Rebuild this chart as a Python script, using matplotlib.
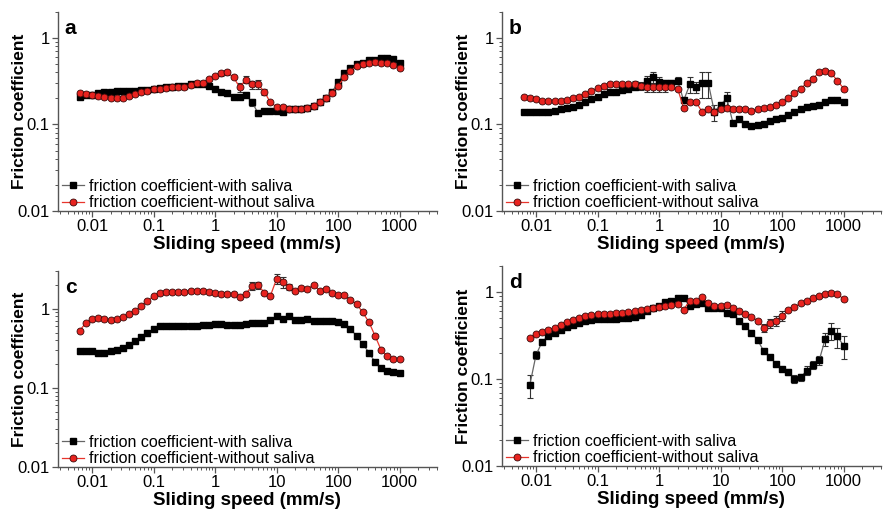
import matplotlib
matplotlib.use("Agg")
import matplotlib.pyplot as plt
from matplotlib.ticker import FixedLocator, LogLocator, NullFormatter
import numpy as np

plt.rcParams['font.family'] = ['Liberation Sans', 'DejaVu Sans']

# sliding speeds (mm/s), ~10 per decade
speed = [0.0063, 0.0079, 0.01, 0.0126, 0.0158, 0.02, 0.025, 0.0316, 0.04, 0.05,
         0.063, 0.079, 0.1, 0.126, 0.158, 0.2, 0.25, 0.316, 0.4, 0.5,
         0.63, 0.79, 1, 1.26, 1.58, 2, 2.5, 3.16, 4, 5,
         6.3, 7.9, 10, 12.6, 15.8, 20, 25, 31.6, 40, 50,
         63, 79, 100, 126, 158, 200, 250, 316, 400, 500,
         630, 790, 1000]

# panel a
a_with = [0.21, 0.22, 0.22, 0.23, 0.235, 0.24, 0.245, 0.245, 0.245, 0.245,
          0.25, 0.25, 0.26, 0.265, 0.27, 0.27, 0.275, 0.28, 0.29, 0.29,
          0.29, 0.28, 0.26, 0.24, 0.23, 0.21, 0.21, 0.22, 0.18, 0.135,
          0.145, 0.145, 0.145, 0.14, 0.15, 0.15, 0.15, 0.155, 0.165, 0.18,
          0.2, 0.235, 0.31, 0.39, 0.45, 0.5, 0.52, 0.55, 0.56, 0.58,
          0.59, 0.57, 0.51]
a_without = [0.23, 0.225, 0.22, 0.215, 0.21, 0.205, 0.205, 0.205, 0.215, 0.225,
             0.235, 0.245, 0.255, 0.26, 0.265, 0.27, 0.27, 0.27, 0.285, 0.3,
             0.3, 0.34, 0.36, 0.39, 0.4, 0.35, 0.27, 0.33, 0.29, 0.29,
             0.24, 0.18, 0.16, 0.16, 0.15, 0.15, 0.15, 0.155, 0.165, 0.18,
             0.2, 0.23, 0.28, 0.35, 0.42, 0.47, 0.5, 0.52, 0.53, 0.52,
             0.51, 0.49, 0.45]
a_err_with = {28: 0.015, 29: 0.01}
a_err_without = {23: 0.03, 24: 0.03, 26: 0.03, 27: 0.03, 28: 0.03, 29: 0.035, 30: 0.02}

# panel b
b_with = [0.14, 0.14, 0.14, 0.14, 0.14, 0.145, 0.15, 0.155, 0.16, 0.17,
          0.18, 0.195, 0.21, 0.225, 0.235, 0.24, 0.25, 0.26, 0.27, 0.28,
          0.32, 0.35, 0.31, 0.3, 0.3, 0.32, 0.19, 0.29, 0.27, 0.3,
          0.3, 0.14, 0.17, 0.2, 0.105, 0.115, 0.1, 0.097, 0.098, 0.1,
          0.11, 0.115, 0.12, 0.13, 0.14, 0.15, 0.16, 0.165, 0.17, 0.18,
          0.19, 0.19, 0.18]
b_without = [0.21, 0.205, 0.195, 0.185, 0.185, 0.185, 0.185, 0.19, 0.2, 0.21,
             0.225, 0.245, 0.265, 0.28, 0.29, 0.29, 0.29, 0.29, 0.29, 0.28,
             0.27, 0.27, 0.27, 0.27, 0.27, 0.26, 0.155, 0.18, 0.18, 0.14,
             0.15, 0.14, 0.15, 0.155, 0.15, 0.15, 0.15, 0.145, 0.15, 0.155,
             0.16, 0.17, 0.18, 0.2, 0.23, 0.26, 0.3, 0.34, 0.4, 0.42,
             0.39, 0.32, 0.26]
b_err_with = {20: 0.04, 21: 0.05, 22: 0.04, 23: 0.03, 24: 0.03, 25: 0.03,
              27: 0.06, 28: 0.04, 29: 0.1, 30: 0.1, 31: 0.03, 33: 0.04}
b_err_without = {18: 0.03, 19: 0.03, 20: 0.03, 21: 0.03, 22: 0.03, 23: 0.03}

# panel c
c_with = [0.29, 0.29, 0.29, 0.28, 0.28, 0.29, 0.3, 0.32, 0.35, 0.39,
          0.44, 0.5, 0.55, 0.6, 0.6, 0.61, 0.61, 0.61, 0.61, 0.61,
          0.62, 0.63, 0.64, 0.64, 0.63, 0.63, 0.62, 0.65, 0.67, 0.67,
          0.66, 0.72, 0.82, 0.75, 0.8, 0.72, 0.72, 0.74, 0.71, 0.71,
          0.7, 0.7, 0.68, 0.64, 0.56, 0.45, 0.36, 0.28, 0.21, 0.18,
          0.165, 0.16, 0.155]
c_without = [0.53, 0.66, 0.74, 0.76, 0.74, 0.72, 0.74, 0.78, 0.86, 0.95,
             1.1, 1.25, 1.45, 1.6, 1.65, 1.65, 1.65, 1.65, 1.7, 1.68,
             1.66, 1.64, 1.58, 1.55, 1.52, 1.52, 1.42, 1.55, 1.95, 2.0,
             1.6, 1.45, 2.4, 2.2, 1.9, 1.7, 1.85, 1.8, 2.0, 1.7,
             1.8, 1.6, 1.5, 1.5, 1.3, 1.15, 0.9, 0.68, 0.45, 0.3,
             0.25, 0.23, 0.23]
c_err_with = {}
c_err_without = {28: 0.2, 29: 0.2, 32: 0.35, 33: 0.35, 34: 0.15}

# panel d (starts at 0.0079 mm/s)
d_with = [np.nan, 0.085, 0.19, 0.27, 0.31, 0.34, 0.37, 0.4, 0.42, 0.44,
          0.47, 0.48, 0.49, 0.49, 0.49, 0.49, 0.5, 0.51, 0.52, 0.55,
          0.6, 0.65, 0.7, 0.76, 0.8, 0.85, 0.85, 0.7, 0.73, 0.75,
          0.66, 0.65, 0.65, 0.58, 0.56, 0.47, 0.41, 0.34, 0.28, 0.21,
          0.18, 0.15, 0.13, 0.12, 0.1, 0.105, 0.125, 0.145, 0.165, 0.29,
          0.36, 0.31, 0.24]
d_without = [np.nan, 0.3, 0.33, 0.35, 0.37, 0.39, 0.42, 0.45, 0.48, 0.5,
             0.53, 0.55, 0.56, 0.56, 0.56, 0.57, 0.58, 0.59, 0.6, 0.62,
             0.64, 0.66, 0.68, 0.7, 0.72, 0.73, 0.63, 0.8, 0.8, 0.88,
             0.75, 0.7, 0.7, 0.72, 0.65, 0.6, 0.56, 0.52, 0.47, 0.39,
             0.44, 0.47, 0.53, 0.62, 0.68, 0.74, 0.8, 0.85, 0.9, 0.95,
             0.97, 0.95, 0.83]
d_err_with = {1: 0.025, 2: 0.02, 43: 0.01, 44: 0.01, 45: 0.01, 46: 0.015,
              47: 0.015, 48: 0.02, 49: 0.05, 50: 0.08, 51: 0.08, 52: 0.07}
d_err_without = {39: 0.04, 40: 0.05, 41: 0.06, 42: 0.07}

panels = [
    ('a', a_with, a_without, a_err_with, a_err_without, 2.0),
    ('b', b_with, b_without, b_err_with, b_err_without, 2.0),
    ('c', c_with, c_without, c_err_with, c_err_without, 3.0),
    ('d', d_with, d_without, d_err_with, d_err_without, 2.0),
]

# axes rectangles in figure fractions
rects = {
    'a': [0.0654, 0.5855, 0.427, 0.391],
    'b': [0.566, 0.5855, 0.427, 0.391],
    'c': [0.0654, 0.0825, 0.427, 0.385],
    'd': [0.566, 0.0845, 0.427, 0.393],
}

spine_col = '#555555'


def err_array(errs, n):
    e = np.zeros(n)
    for k, v in errs.items():
        e[k] = v
    return e


fig = plt.figure(figsize=(8.87, 5.09), dpi=100)

for name, yw, yo, ew, eo, ytop in panels:
    ax = fig.add_axes(rects[name])
    n = len(speed)
    # error bars first, then lines+markers (legend uses the plain lines)
    ax.errorbar(speed, yw, yerr=err_array(ew, n), fmt='none', ecolor='#333333',
                elinewidth=0.8, capsize=2, capthick=0.8, zorder=2)
    ax.errorbar(speed, yo, yerr=err_array(eo, n), fmt='none', ecolor='#333333',
                elinewidth=0.8, capsize=2, capthick=0.8, zorder=2)
    ax.plot(speed, yw, color='#666666', lw=0.9, marker='s', ms=5,
            mfc='black', mec='black', label='friction coefficient-with saliva',
            zorder=3)
    ax.plot(speed, yo, color='#e8352c', lw=0.9, marker='o', ms=5,
            mfc='#e8231f', mec='#3a0a0a', mew=0.6,
            label='friction coefficient-without saliva', zorder=4)
    ax.set_xscale('log')
    ax.set_yscale('log')
    ax.set_xlim(0.0028, 4000)
    ax.set_ylim(0.01, ytop)

    ax.xaxis.set_major_locator(FixedLocator([0.01, 0.1, 1, 10, 100, 1000]))
    ax.set_xticklabels(['0.01', '0.1', '1', '10', '100', '1000'])
    ax.xaxis.set_minor_locator(LogLocator(base=10, subs=np.arange(2, 10), numticks=20))
    ax.xaxis.set_minor_formatter(NullFormatter())
    ax.yaxis.set_major_locator(FixedLocator([0.01, 0.1, 1]))
    ax.set_yticklabels(['0.01', '0.1', '1'])
    ax.yaxis.set_minor_locator(LogLocator(base=10, subs=np.arange(2, 10), numticks=20))
    ax.yaxis.set_minor_formatter(NullFormatter())

    for s in ['top', 'right']:
        ax.spines[s].set_visible(False)
    for s in ['left', 'bottom']:
        ax.spines[s].set_color(spine_col)
        ax.spines[s].set_linewidth(1.0)
    ax.tick_params(which='major', direction='out', length=4, width=0.9,
                   color=spine_col, labelsize=12, pad=2)
    ax.tick_params(which='minor', direction='out', length=2, width=0.7,
                   color=spine_col)

    ax.set_xlabel('Sliding speed (mm/s)', fontsize=13.5, fontweight='bold', labelpad=1)
    ax.set_ylabel('Friction coefficient', fontsize=12.5, fontweight='bold')
    ax.yaxis.set_label_coords(-0.082, 0.5)
    ax.text(0.018, 0.965, name, transform=ax.transAxes, fontsize=15,
            fontweight='bold', va='top', ha='left')

    ax.legend(loc='lower left', frameon=False, fontsize=11.5, handlelength=1.4,
              handletextpad=0.35, borderaxespad=0.0, borderpad=0.1,
              labelspacing=0.1, bbox_to_anchor=(0.005, -0.005))

fig.savefig('out.png', dpi=100)
